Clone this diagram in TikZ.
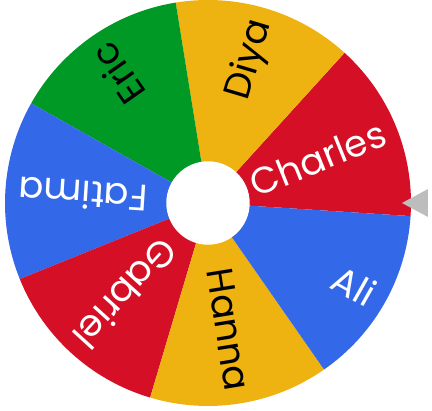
\documentclass[tikz,border=0pt]{standalone}
\usepackage{fontspec}
\setmainfont{Poppins}
\definecolor{gred}{HTML}{D50F25}
\definecolor{gyellow}{HTML}{EEB211}
\definecolor{ggreen}{HTML}{009925}
\definecolor{gblue}{HTML}{3369E8}
\definecolor{pointer}{HTML}{BDBDBD}
\tikzset{
  seglabel/.style={anchor=east, inner sep=0pt, font=\fontsize{37}{37}\selectfont},
}
\begin{document}
\begin{tikzpicture}[x=1pt,y=1pt]
\useasboundingbox (-208,-208) rectangle (224,203);
\def\R{203}
\def\w{51.4286}
\foreach \i/\col in {0/gred,1/gyellow,2/ggreen,3/gblue,4/gred,5/gyellow,6/gblue}{
  \pgfmathsetmacro\a{-3.7+\i*\w}
  \pgfmathsetmacro\b{\a+\w}
  \fill[\col] (0,0) -- (\a:\R) arc[start angle=\a, end angle=\b, radius=\R] -- cycle;
}
\fill[white] (0,0) circle[radius=41.7];
\coordinate (hub) at (0,0);
\foreach \i/\name/\tcol in {0/Charles/white,1/Diya/black,2/Eric/black,3/Fatima/white,4/Gabriel/white,5/Hanna/black,6/Ali/white}{
  \pgfmathsetmacro\m{-3.7+\i*\w+\w/2}
  \node[seglabel, text=\tcol, rotate=\m] (lbl\i) at (\m:190) {\name};
}
\fill[pointer] (194,0) -- (220,14) -- (220,-14) -- cycle;
\end{tikzpicture}
\end{document}
